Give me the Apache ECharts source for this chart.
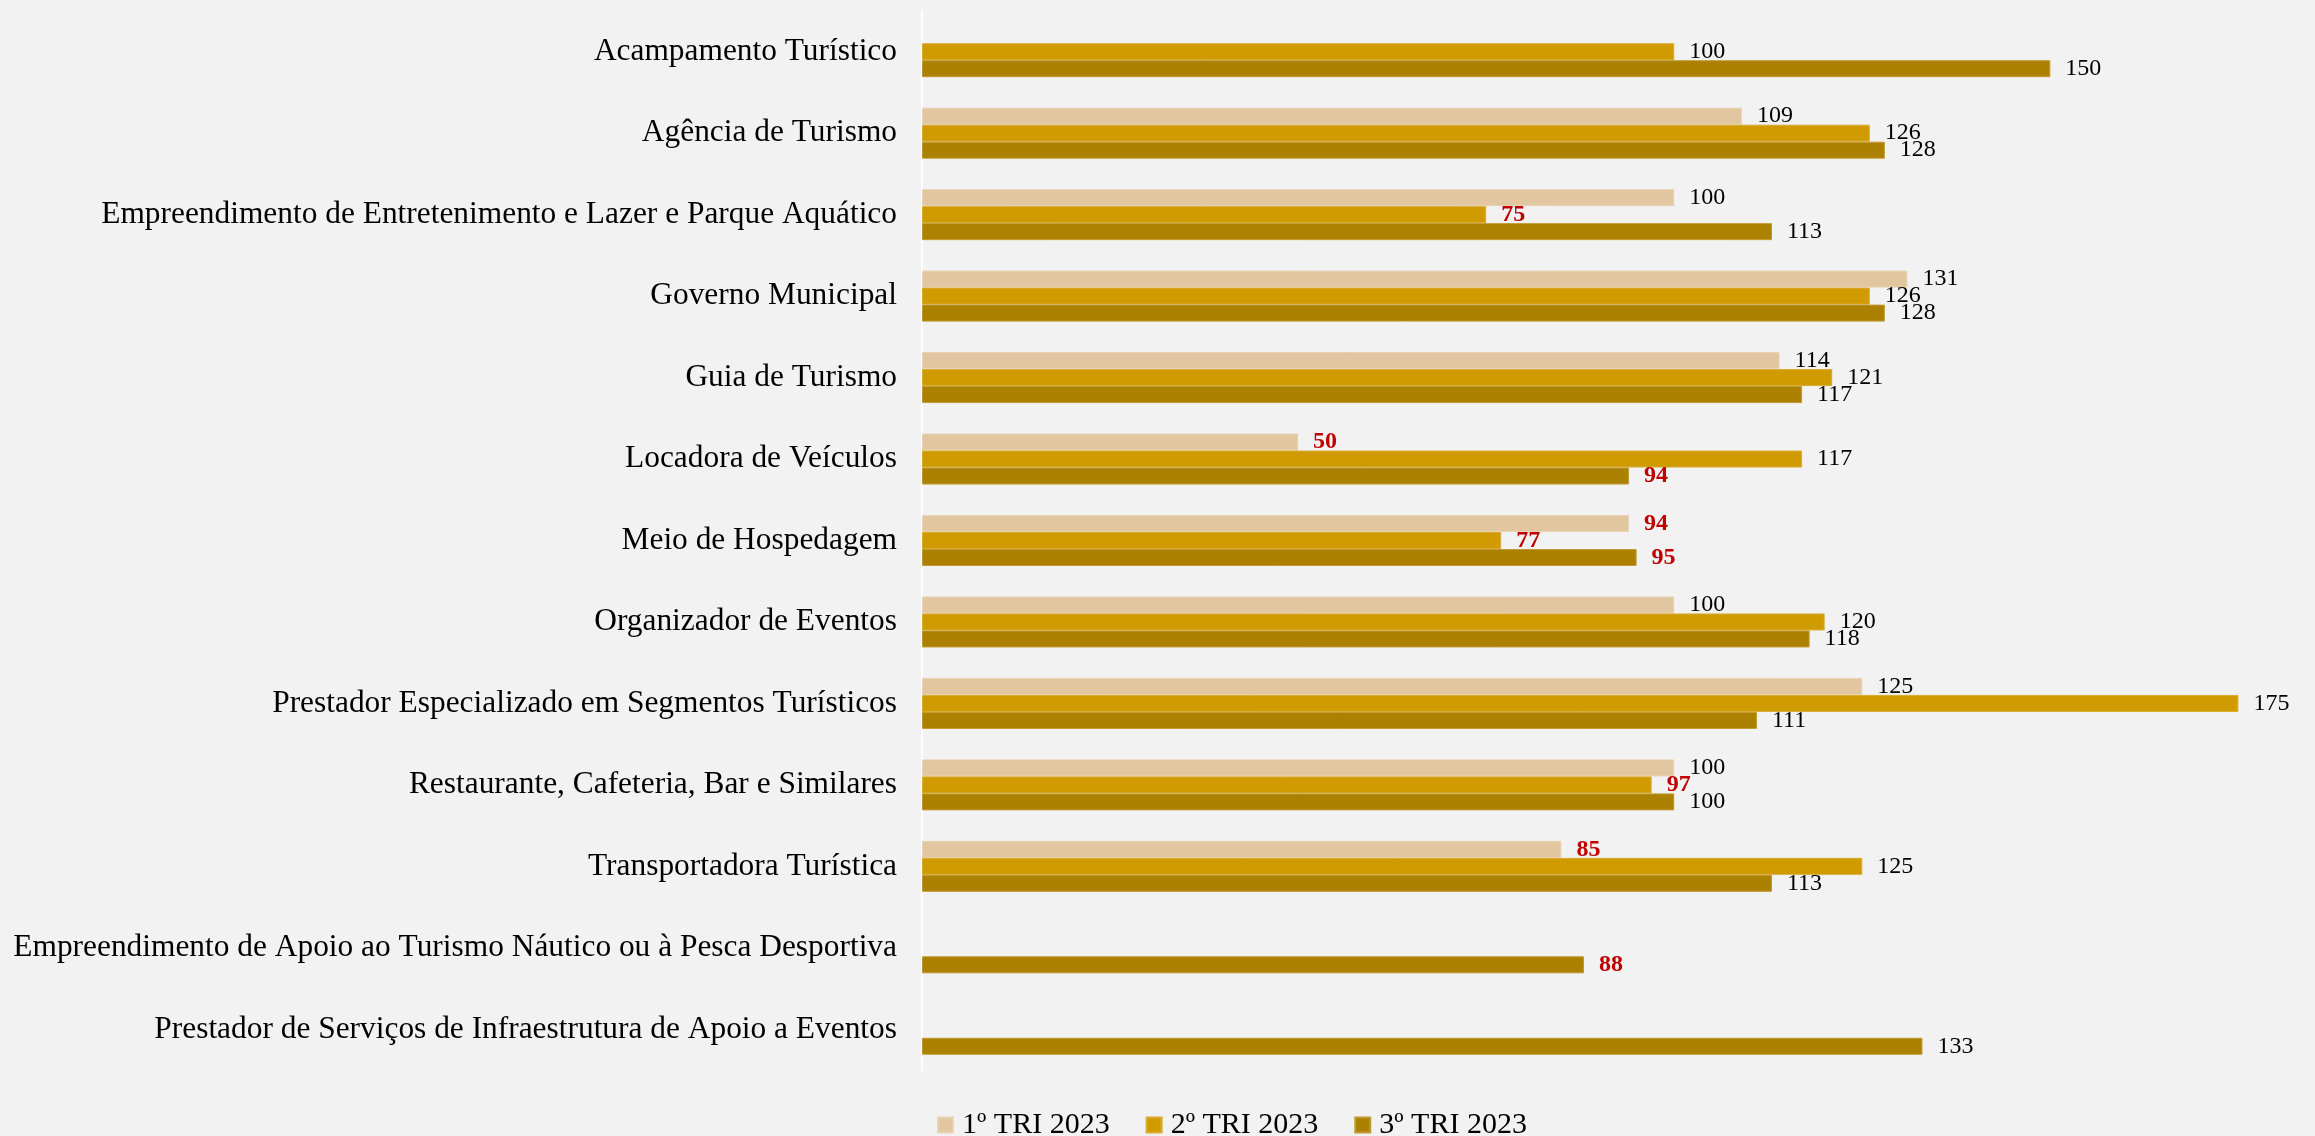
<!DOCTYPE html>
<html>
<head>
<meta charset="utf-8">
<script src="https://cdn.jsdelivr.net/npm/echarts@6/dist/echarts.min.js"></script>
<style>
html,body{margin:0;padding:0;background:#f2f2f2;}
#chart{width:2315px;height:1136px;}
</style>
</head>
<body>
<div id="chart"></div>
<script>
const categories = [
  "Acampamento Turístico",
  "Agência de Turismo",
  "Empreendimento de Entretenimento e Lazer e Parque Aquático",
  "Governo Municipal",
  "Guia de Turismo",
  "Locadora de Veículos",
  "Meio de Hospedagem",
  "Organizador de Eventos",
  "Prestador Especializado em Segmentos Turísticos",
  "Restaurante, Cafeteria, Bar e Similares",
  "Transportadora Turística",
  "Empreendimento de Apoio ao Turismo Náutico ou à Pesca Desportiva",
  "Prestador de Serviços de Infraestrutura de Apoio a Eventos"
];
const seriesNames = ["1º TRI 2023", "2º TRI 2023", "3º TRI 2023"];
const tri1 = [null, 109, 100, 131, 114, 50, 94, 100, 125, 100, 85, null, null];
const tri2 = [100, 126, 75, 126, 121, 117, 77, 120, 175, 97, 125, null, null];
const tri3 = [150, 128, 113, 128, 117, 94, 95, 118, 111, 100, 113, 88, 133];
const colors = ["#E2C6A0", "#D09B00", "#AC8000"];
const borderColors = ["#E8D3B4", "#D9AC30", "#C09A30"];
const threshold = 100;

const font = "'Liberation Serif', 'Times New Roman', serif";

function toData(arr) {
  return arr.map(v => {
    if (v === null) return null;
    if (v < threshold) {
      return { value: v, label: { color: "#C00000", fontWeight: "bold" } };
    }
    return { value: v };
  });
}

const seriesData = [tri1, tri2, tri3];

const chart = echarts.init(document.getElementById('chart'));
chart.setOption({
  backgroundColor: "#f2f2f2",
  animation: false,
  legend: {
    data: seriesNames,
    left: 932,
    top: 1105,
    icon: "rect",
    itemWidth: 15,
    itemHeight: 15,
    itemGap: 36,
    textStyle: { fontFamily: font, fontSize: 30, color: "#000", padding: [0, 0, 0, 4] }
  },
  grid: { left: 922, top: 11, width: 1354, height: 1059, containLabel: false },
  xAxis: {
    type: "value",
    min: 0,
    max: 180,
    axisLine: { show: false },
    axisTick: { show: false },
    axisLabel: { show: false },
    splitLine: { show: false }
  },
  yAxis: {
    type: "category",
    data: categories,
    inverse: true,
    axisLine: { show: true, lineStyle: { color: "#ffffff", width: 2 } },
    axisTick: { show: false },
    axisLabel: { fontFamily: font, fontSize: 31.4, color: "#000", margin: 25 }
  },
  series: seriesData.map((arr, i) => ({
    name: seriesNames[i],
    type: "bar",
    barWidth: 17,
    barGap: "0%",
    data: toData(arr),
    itemStyle: { color: colors[i], borderColor: borderColors[i], borderWidth: 1 },
    label: {
      show: true,
      position: "right",
      distance: 15,
      fontFamily: font,
      fontSize: 24,
      color: "#000"
    }
  }))
});
</script>
</body>
</html>
